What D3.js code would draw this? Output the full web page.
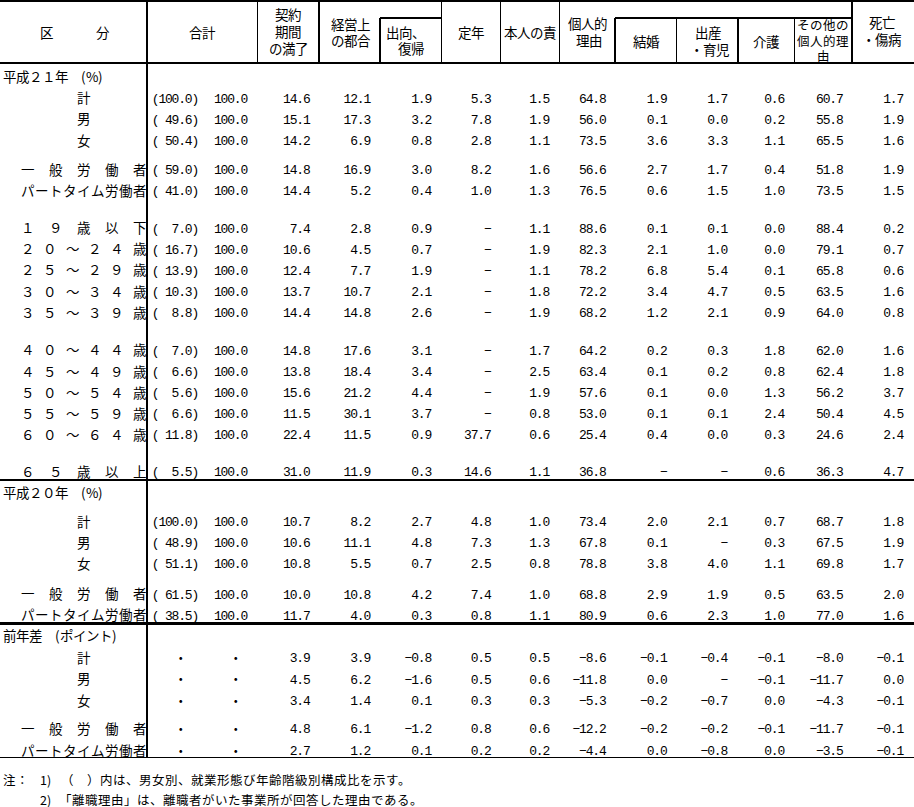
<!DOCTYPE html>
<html><head><meta charset="utf-8">
<script src="https://cdn.jsdelivr.net/npm/d3@7"></script>
<style>
@font-face{
  font-family:"JPTight";
  src:local("Noto Sans CJK JP Regular"),local("NotoSansCJKjp-Regular"),local("Noto Sans CJK JP");
  ascent-override:88%;descent-override:12%;line-gap-override:0%;
}
html,body{margin:0;padding:0;background:#fff;}
svg{display:block;}
.num{font-family:"Liberation Mono",monospace;font-size:13px;letter-spacing:-1.2px;fill:#000;}
.jp{font-family:"JPTight","Noto Sans CJK JP","Noto Sans",sans-serif;font-size:13.5px;fill:#000;}
.note{font-family:"JPTight","Noto Sans CJK JP","Noto Sans",sans-serif;font-size:12.5px;fill:#000;}
</style></head><body>
<svg id="chart" width="914" height="807"></svg>
<script>
// ---------------- DATA ----------------
const stubHeader = "区分";
const totalHeader = "合計";
const reasonHeaders = [
  ["契約","期間","の満了"],
  ["経営上","の都合"],
  ["出向、","復帰"],
  ["定年"],
  ["本人の責"],
  ["個人的","理由"],
  ["結婚"],
  ["出産","・育児"],
  ["介護"],
  ["その他の","個人的理","由"],
  ["死亡","・傷病"]
];

const h21Title = "平成２１年　(%)";
const h21Rows = ["計","男","女","一般労働者","パートタイム労働者","１９歳以下","２０～２４歳","２５～２９歳","３０～３４歳","３５～３９歳","４０～４４歳","４５～４９歳","５０～５４歳","５５～５９歳","６０～６４歳","６５歳以上"];
const h21Share = [100.0,49.6,50.4,59.0,41.0,7.0,16.7,13.9,10.3,8.8,7.0,6.6,5.6,6.6,11.8,5.5];
const h21Total = [100.0,100.0,100.0,100.0,100.0,100.0,100.0,100.0,100.0,100.0,100.0,100.0,100.0,100.0,100.0,100.0];
const h21Values = [
  [14.6,12.1,1.9,5.3,1.5,64.8,1.9,1.7,0.6,60.7,1.7],
  [15.1,17.3,3.2,7.8,1.9,56.0,0.1,0.0,0.2,55.8,1.9],
  [14.2,6.9,0.8,2.8,1.1,73.5,3.6,3.3,1.1,65.5,1.6],
  [14.8,16.9,3.0,8.2,1.6,56.6,2.7,1.7,0.4,51.8,1.9],
  [14.4,5.2,0.4,1.0,1.3,76.5,0.6,1.5,1.0,73.5,1.5],
  [7.4,2.8,0.9,null,1.1,88.6,0.1,0.1,0.0,88.4,0.2],
  [10.6,4.5,0.7,null,1.9,82.3,2.1,1.0,0.0,79.1,0.7],
  [12.4,7.7,1.9,null,1.1,78.2,6.8,5.4,0.1,65.8,0.6],
  [13.7,10.7,2.1,null,1.8,72.2,3.4,4.7,0.5,63.5,1.6],
  [14.4,14.8,2.6,null,1.9,68.2,1.2,2.1,0.9,64.0,0.8],
  [14.8,17.6,3.1,null,1.7,64.2,0.2,0.3,1.8,62.0,1.6],
  [13.8,18.4,3.4,null,2.5,63.4,0.1,0.2,0.8,62.4,1.8],
  [15.6,21.2,4.4,null,1.9,57.6,0.1,0.0,1.3,56.2,3.7],
  [11.5,30.1,3.7,null,0.8,53.0,0.1,0.1,2.4,50.4,4.5],
  [22.4,11.5,0.9,37.7,0.6,25.4,0.4,0.0,0.3,24.6,2.4],
  [31.0,11.9,0.3,14.6,1.1,36.8,null,null,0.6,36.3,4.7]
];

const h20Title = "平成２０年　(%)";
const h20Rows = ["計","男","女","一般労働者","パートタイム労働者"];
const h20Share = [100.0,48.9,51.1,61.5,38.5];
const h20Total = [100.0,100.0,100.0,100.0,100.0];
const h20Values = [
  [10.7,8.2,2.7,4.8,1.0,73.4,2.0,2.1,0.7,68.7,1.8],
  [10.6,11.1,4.8,7.3,1.3,67.8,0.1,null,0.3,67.5,1.9],
  [10.8,5.5,0.7,2.5,0.8,78.8,3.8,4.0,1.1,69.8,1.7],
  [10.0,10.8,4.2,7.4,1.0,68.8,2.9,1.9,0.5,63.5,2.0],
  [11.7,4.0,0.3,0.8,1.1,80.9,0.6,2.3,1.0,77.0,1.6]
];

const diffTitle = "前年差　(ポイント)";
const diffRows = ["計","男","女","一般労働者","パートタイム労働者"];
const diffShare = [null,null,null,null,null];
const diffTotal = [null,null,null,null,null];
const diffValues = [
  [3.9,3.9,-0.8,0.5,0.5,-8.6,-0.1,-0.4,-0.1,-8.0,-0.1],
  [4.5,6.2,-1.6,0.5,0.6,-11.8,0.0,null,-0.1,-11.7,0.0],
  [3.4,1.4,0.1,0.3,0.3,-5.3,-0.2,-0.7,0.0,-4.3,-0.1],
  [4.8,6.1,-1.2,0.8,0.6,-12.2,-0.2,-0.2,-0.1,-11.7,-0.1],
  [2.7,1.2,0.1,0.2,0.2,-4.4,0.0,-0.8,0.0,-3.5,-0.1]
];

const noteLabel = "注：";
const noteMarks = ["1)","2)"];
const noteTexts = [
  "（　）内は、男女別、就業形態び年齢階級別構成比を示す。",
  "「離職理由」は、離職者がいた事業所が回答した理由である。"
];

// ---------------- LAYOUT ----------------
const W = 914, H = 807;
const headTop = 0, headSub = 17.5, headBottom = 63;
const rowH = 21.15;
const sections = [
  {title:h21Title, rows:h21Rows, share:h21Share, total:h21Total, values:h21Values,
   titleGap:0.648, gaps:[1.02,1,1,1.38,1,1.76,1,1,1,1,1.78,1,1,1,1,1.74], ruleGap:0.39, ruleW:2.5, na:false},
  {title:h20Title, rows:h20Rows, share:h20Share, total:h20Total, values:h20Values,
   titleGap:0.63, gaps:[1.34,1,0.98,1.45,1], ruleGap:0.38, ruleW:2.5, na:false},
  {title:diffTitle, rows:diffRows, share:diffShare, total:diffTotal, values:diffValues,
   titleGap:0.61, gaps:[1.02,1.02,1,1.34,1.03], ruleGap:0.33, ruleW:1.5, na:true}
];
// right edges of number columns: share, total, then 11 reasons
const numRight = [198, 247, 309.5, 370, 431, 490.5, 549, 605.5, 666.5, 727, 784, 842.5, 903];
const naCenters = [180, 235];
const stubRange = [27.7, 139];

const headerPos = [
  {x:[288,288,288], y:[15,32,49]},
  {x:[350,350], y:[25,41]},
  {x:[405,411], y:[33,49]},
  {x:[470.5], y:[33]},
  {x:[529.5], y:[33]},
  {x:[587.5,589], y:[24,41]},
  {x:[646], y:[42]},
  {x:[707.5,709.5], y:[33,50]},
  {x:[766], y:[42]},
  {x:[823,823,823], y:[25,41,56], size:12.5},
  {x:[882,881], y:[23,40]}
];

const svg = d3.select("#chart");
const y = d3.scaleLinear().domain([0,1]).range([headBottom, headBottom + rowH]);
const fmt = d3.format(".1f");
const cellText = v => v == null ? "\u2212" : fmt(v);
const shareText = v => "(" + fmt(v).padStart(5, " ") + ")";

// ---------------- HEADER ----------------
const gLines = svg.append("g").attr("stroke", "#000").attr("shape-rendering", "crispEdges");

const stubX = d3.scalePoint().domain(d3.range(stubHeader.length)).range([46, 102]);
svg.append("g").selectAll("text").data(Array.from(stubHeader)).join("text")
  .attr("class","jp").attr("x",(d,i)=>stubX(i)).attr("y",33)
  .attr("text-anchor","middle").attr("dominant-baseline","central").text(d=>d);

svg.append("text").attr("class","jp").attr("x",201.7).attr("y",33)
  .attr("text-anchor","middle").attr("dominant-baseline","central").text(totalHeader);

reasonHeaders.forEach((lines, k) => {
  const p = headerPos[k];
  const t = svg.append("text").attr("class","jp")
    .style("font-size", p.size ? p.size + "px" : null)
    .attr("text-anchor","middle").attr("dominant-baseline","central");
  t.selectAll("tspan").data(lines).join("tspan")
    .attr("x",(d,i)=>p.x[i] ?? p.x[0]).attr("y",(d,i)=>p.y[i])
    .attr("dominant-baseline","central").text(d=>d);
});

const hLines = [
  {y:1, x1:0, x2:W, w:2},
  {y:headBottom, x1:0, x2:W, w:2.5},
  {y:headSub, x1:380, x2:441, w:2},
  {y:headSub, x1:615, x2:852, w:2}
];
const vHead = [
  {x:257, y1:headTop, w:1},
  {x:319, y1:headTop, w:2},
  {x:380, y1:headSub, w:2},
  {x:441, y1:headTop, w:1},
  {x:500, y1:headTop, w:1},
  {x:559, y1:headTop, w:1},
  {x:615, y1:headSub, w:2},
  {x:676, y1:headSub, w:1},
  {x:738, y1:headSub, w:2},
  {x:794, y1:headSub, w:1},
  {x:852, y1:headTop, w:2}
];
gLines.selectAll("line.vh").data(vHead).join("line").attr("class","vh")
  .attr("x1",d=>d.x).attr("x2",d=>d.x).attr("y1",d=>d.y1).attr("y2",headBottom)
  .attr("stroke-width",d=>d.w);

// ---------------- BODY ----------------
let u = 0;
const rules = [];
sections.forEach(sec => {
  u += sec.titleGap;
  svg.append("text").attr("class","jp").attr("x",3).attr("y",y(u))
    .attr("dominant-baseline","central").text(sec.title);
  sec.rows.forEach((label, i) => {
    u += sec.gaps[i];
    const yy = y(u);
    const g = svg.append("g");
    const chars = Array.from(label);
    const sx = d3.scalePoint().domain(d3.range(chars.length)).range(stubRange);
    g.selectAll("text.lab").data(chars).join("text").attr("class","jp lab")
      .attr("x",(d,j)=>sx(j)).attr("y",yy)
      .attr("text-anchor","middle").attr("dominant-baseline","central").text(d=>d);
    if (sec.na) {
      g.selectAll("text.na").data(naCenters).join("text").attr("class","jp na")
        .attr("x",d=>d).attr("y",yy).attr("text-anchor","middle")
        .attr("dominant-baseline","central").text("・");
    } else {
      g.append("text").attr("class","num").attr("xml:space","preserve")
        .attr("x",numRight[0]).attr("y",yy+4.4).attr("text-anchor","end")
        .text(shareText(sec.share[i]));
      g.append("text").attr("class","num")
        .attr("x",numRight[1]).attr("y",yy+4.4).attr("text-anchor","end")
        .text(cellText(sec.total[i]));
    }
    g.selectAll("text.v").data(sec.values[i]).join("text").attr("class","num v")
      .attr("x",(d,j)=>numRight[j+2]).attr("y",yy+4.4).attr("text-anchor","end")
      .text(d=>cellText(d));
  });
  u += sec.ruleGap;
  rules.push({y:y(u), x1:0, x2:W, w:sec.ruleW});
});
const bodyBottom = rules[rules.length-1].y;
hLines.push(...rules);

gLines.selectAll("line.h").data(hLines).join("line").attr("class","h")
  .attr("x1",d=>d.x1).attr("x2",d=>d.x2).attr("y1",d=>d.y).attr("y2",d=>d.y)
  .attr("stroke-width",d=>d.w);
gLines.append("line").attr("x1",147).attr("x2",147).attr("y1",0).attr("y2",bodyBottom)
  .attr("stroke-width",2.5);

// ---------------- NOTES ----------------
const noteGaps = [1.08, 0.92];
const noteTextX = [60.5, 58.7];
noteTexts.forEach((t, i) => {
  u += noteGaps[i];
  const yy = y(u);
  if (i === 0) svg.append("text").attr("class","note").attr("x",3).attr("y",yy)
      .attr("dominant-baseline","central").text(noteLabel);
  svg.append("text").attr("class","note").attr("x",40).attr("y",yy)
    .attr("dominant-baseline","central").text(noteMarks[i]);
  svg.append("text").attr("class","note").attr("x",noteTextX[i]).attr("y",yy)
    .attr("dominant-baseline","central").text(t);
});
</script>
</body></html>
